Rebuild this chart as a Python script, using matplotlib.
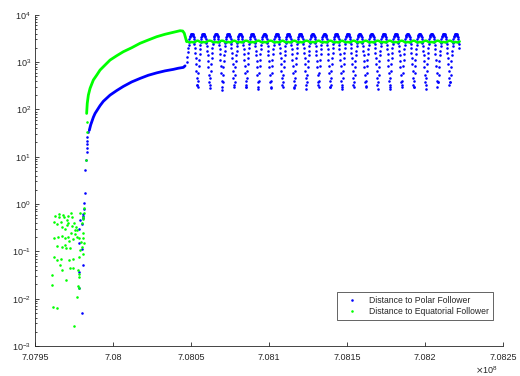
import matplotlib
matplotlib.use("Agg")
import matplotlib.pyplot as plt
from matplotlib.ticker import FixedLocator, FixedFormatter, LogLocator, NullFormatter
from matplotlib.lines import Line2D

plt.rcParams['font.family'] = ['Liberation Sans', 'DejaVu Sans']

# ---------------- data (x in units of 1e8) ----------------
xticks = [7.0795, 7.0800, 7.0805, 7.0810, 7.0815, 7.0820, 7.0825]
xticklabels = ['7.0795', '7.08', '7.0805', '7.081', '7.0815', '7.082', '7.0825']
series_labels = ['Distance to Polar Follower', 'Distance to Equatorial Follower']

# early noisy phase
green_noise_x = [7.079628, 7.079654, 7.079682, 7.079656, 7.079624, 7.079643, 7.079667, 7.079686,
                 7.079703, 7.079714, 7.079731, 7.079735, 7.079703, 7.079671, 7.079692, 7.079714,
                 7.079735, 7.079750, 7.079763, 7.079756, 7.079731, 7.079714, 7.079692, 7.079671,
                 7.079650, 7.079622, 7.079639, 7.079671, 7.079699, 7.079724, 7.079692, 7.079720,
                 7.079742, 7.079756, 7.079771, 7.079767, 7.079784, 7.079793, 7.079799, 7.079806,
                 7.079788, 7.079810, 7.079814, 7.079816, 7.079806, 7.079810, 7.079799, 7.079814,
                 7.079788, 7.079806, 7.079780, 7.079778, 7.079784, 7.079782, 7.079782, 7.079778,
                 7.079771, 7.079750, 7.079720, 7.079724, 7.079699, 7.079671, 7.079660, 7.079643,
                 7.079622, 7.079611, 7.079611, 7.079618, 7.079639, 7.079665, 7.079742, 7.079746]
green_noise_y = [0.555, 0.601, 0.591, 0.52, 0.408, 0.376, 0.422, 0.52,
                 0.457, 0.555, 0.653, 0.537, 0.358, 0.33, 0.29, 0.388,
                 0.341, 0.401, 0.33, 0.281, 0.239, 0.203, 0.196, 0.21,
                 0.203, 0.196, 0.129, 0.125, 0.115, 0.115, 0.135, 0.167,
                 0.184, 0.231, 0.281, 0.203, 0.187, 0.159, 0.388, 0.472,
                 0.631, 0.52, 0.805, 0.631, 0.239, 0.187, 0.125, 0.147,
                 0.106, 0.0873, 0.0742, 0.04, 0.034, 0.029, 0.0172, 0.0184,
                 0.0109, 0.00262, 0.0652, 0.0434, 0.0254, 0.04, 0.0511, 0.0652,
                 0.0742, 0.0324, 0.0196, 0.00671, 0.0064, 0.0695, 0.0434, 0.0673]

blue_noise_x = [7.079821, 7.079816, 7.079814, 7.079810, 7.079806, 7.079806, 7.079788, 7.079799,
                7.079784, 7.079784, 7.079803, 7.079806, 7.079782, 7.079780, 7.079803]
blue_noise_y = [1.75, 1.03, 0.80, 0.63, 0.55, 0.50, 0.46, 0.38,
                0.29, 0.15, 0.11, 0.051, 0.037, 0.0168, 0.0051]

# rise
blue_rise_x = [7.079822, 7.079827, 7.079831, 7.079831, 7.079832, 7.079833, 7.079835, 7.079842]
blue_rise_y = [5.2, 8.5, 12.7, 15.4, 18.2, 21.7, 26, 33.6]
green_rise_x = [7.079826, 7.079831, 7.079833]
green_rise_y = [8.5, 33.6, 53]

# smooth growth phase
blue_curve_x = [7.079848, 7.079857, 7.079874, 7.079885, 7.079917, 7.079938, 7.079981, 7.080024,
                7.080066, 7.080120, 7.080173, 7.080226, 7.080280, 7.080333, 7.080387, 7.080419,
                7.080451, 7.080462]
blue_curve_y = [36, 47, 68, 82, 120, 148, 200, 250,
                305, 380, 450, 525, 590, 650, 700, 740,
                770, 830]
blue_lead_x = [7.0804724, 7.0804763, 7.0804795, 7.0804820, 7.0804846]
blue_lead_y = [1015, 1295, 1600, 1950, 2300]

green_curve_x = [7.079831, 7.079835, 7.079842, 7.079853, 7.079874, 7.079896, 7.079917, 7.079949,
                 7.079981, 7.080024, 7.080066, 7.080120, 7.080173, 7.080226, 7.080280, 7.080333,
                 7.080387, 7.080430, 7.080447, 7.080457, 7.080466, 7.080472]
green_curve_y = [82, 134, 200, 278, 417, 531, 677, 864,
                 1100, 1360, 1650, 2005, 2485, 2920, 3425, 3855,
                 4250, 4590, 4520, 4050, 3170, 2690]

# periodic phase: maxima positions, arch shape, and dip samples
arch_centers = [7.0805045, 7.0805788, 7.0806603, 7.0807391, 7.0808141, 7.0808929, 7.0809699,
                7.0810494, 7.0811237, 7.0812006, 7.0812801, 7.0813545, 7.0814314, 7.0815045,
                7.0815814, 7.0816583, 7.0817353, 7.0818122, 7.0818891, 7.0819660, 7.0820429,
                7.0821199, 7.0821968]
arch_offsets = [-16.67, -14.74, -12.82, -10.26, -7.69, -5.13, -2.56, 0.0,
                2.56, 5.13, 7.69, 10.26, 12.82, 14.74, 16.67]          # x 1e-6
arch_values = [2700, 3000, 3300, 3550, 3720, 3820, 3880, 3900,
               3880, 3820, 3720, 3550, 3300, 3000, 2700]
# dip samples: offsets (x 1e-6) before the dip minimum, and values
dip_offsets = {
    'A': [-19.87, -17.31, -14.74, -12.18, -9.62, -7.05, -4.49, -2.24],
    'B': [-21.15, -18.59, -16.03, -13.46, -10.90, -8.33, -5.77, -3.21],
    'C': [-19.23, -16.67, -14.10, -11.54, -8.97, -6.41, -3.85, -1.28],
}
dip_values = {
    'A': [2350, 1950, 1550, 1200, 900, 650, 450, 330],
    'B': [2550, 2150, 1750, 1380, 1050, 780, 540, 380],
    'C': [2250, 1850, 1450, 1120, 830, 600, 400, 290],
}
dip_desc_set = list('ABCACBBACABCCABACBABCA')
dip_asc_set = list('CABBACCBABCAABCBACCABB')
trough_values = [327, 280, 256, 290, 300, 265, 280, 300, 280, 265, 320,
                 300, 265, 290, 310, 268, 268, 327, 290, 268, 375, 375]
last_desc_values = [2350, 1950]

green_cycle_offsets = [-32.05, -25.64, -19.23, -12.82, -6.41, 0.0, 6.41, 12.82, 19.23, 25.64, 32.05, 38.46]
green_cycle_values = [2800, 2720, 2640, 2600, 2620, 2660, 2620, 2600, 2640, 2720, 2800, 2830]

BLUE = '#0000ff'
GREEN = '#00ff00'
AXC = '#262626'

# assemble periodic points
bpx, bpy = [], []
n = len(arch_centers)
for c in arch_centers:
    for o, v in zip(arch_offsets, arch_values):
        bpx.append(c + o * 1e-6)
        bpy.append(v)
for k in range(n - 1):
    mid = 0.5 * (arch_centers[k] + arch_centers[k + 1])
    sd, sa = dip_desc_set[k], dip_asc_set[k]
    for o, v in zip(dip_offsets[sd], dip_values[sd]):
        bpx.append(mid + o * 1e-6)
        bpy.append(v)
    for o, v in zip(dip_offsets[sa], dip_values[sa]):
        bpx.append(mid - o * 1e-6)
        bpy.append(v)
    bpx.append(mid)
    bpy.append(trough_values[k])
# descent after the last maximum
last_mid = arch_centers[-1] + 0.5 * (arch_centers[-1] - arch_centers[-2])
for o, v in zip(dip_offsets['A'][:2], last_desc_values):
    bpx.append(last_mid + o * 1e-6)
    bpy.append(v)

gpx, gpy = [], []
for k, c in enumerate(arch_centers):
    for o, v in zip(green_cycle_offsets, green_cycle_values):
        if k == n - 1 and o > 29:
            continue
        gpx.append(c + o * 1e-6)
        gpy.append(v)

fig = plt.figure(figsize=(5.2, 3.76), dpi=100)
ax = fig.add_axes([35 / 520, 1 - 346 / 376, 468 / 520, 331.3 / 376])

ms = 1.85
dot = dict(ls='none', marker='o', ms=ms, mew=0)
# polar (blue)
ax.plot(blue_noise_x, blue_noise_y, color=BLUE, **dot, zorder=2)
ax.plot(blue_rise_x, blue_rise_y, color=BLUE, **dot, zorder=2)
ax.plot(blue_curve_x, blue_curve_y, color=BLUE, lw=2.0, solid_capstyle='round', zorder=2)
ax.plot(blue_lead_x, blue_lead_y, color=BLUE, **dot, zorder=2)
ax.plot(bpx, bpy, color=BLUE, **dot, zorder=2)
# equatorial (green)
ax.plot(green_noise_x, green_noise_y, color=GREEN, **dot, zorder=3)
ax.plot(green_rise_x, green_rise_y, color=GREEN, **dot, zorder=3)
ax.plot(green_curve_x, green_curve_y, color=GREEN, lw=2.0, solid_capstyle='round', zorder=3)
ax.plot(gpx, gpy, color=GREEN, lw=1.8, solid_capstyle='round', zorder=3)

ax.set_yscale('log')
ax.set_ylim(1e-3, 1e4)
ax.set_xlim(xticks[0], xticks[-1])
ax.xaxis.set_major_locator(FixedLocator(xticks))
ax.xaxis.set_major_formatter(FixedFormatter(xticklabels))
ax.yaxis.set_major_locator(LogLocator(base=10, numticks=20))
ax.yaxis.set_minor_locator(LogLocator(base=10, subs=range(2, 10), numticks=20))
ax.yaxis.set_minor_formatter(NullFormatter())
ax.xaxis.offsetText.set_visible(False)
ax.yaxis.offsetText.set_visible(False)

for s in ['top', 'right']:
    ax.spines[s].set_visible(False)
for s in ['left', 'bottom']:
    ax.spines[s].set_color(AXC)
    ax.spines[s].set_linewidth(0.6)
ax.tick_params(which='both', direction='in', colors=AXC, labelsize=6.5, width=0.6)
ax.tick_params(which='major', length=3)
ax.tick_params(axis='x', which='major', pad=5)
ax.tick_params(axis='y', which='major', pad=3)
ax.tick_params(which='minor', length=1.6)

fig.text(498 / 520, 1 - 370 / 376, r'$\times\mathdefault{10^{8}}$', ha='right', va='center',
         fontsize=6.5, color=AXC)

handles = [Line2D([], [], color=BLUE, **dot), Line2D([], [], color=GREEN, **dot)]
leg = ax.legend(handles, series_labels, loc='lower right', bbox_to_anchor=(0.979, 0.078),
                fontsize=6.2, frameon=True, fancybox=False, framealpha=1, edgecolor=AXC,
                handlelength=2.6, handletextpad=0.7, borderpad=0.45, labelspacing=0.3,
                borderaxespad=0)
leg.get_frame().set_linewidth(0.5)
for t in leg.get_texts():
    t.set_color(AXC)

fig.savefig('out.png', dpi=100)
